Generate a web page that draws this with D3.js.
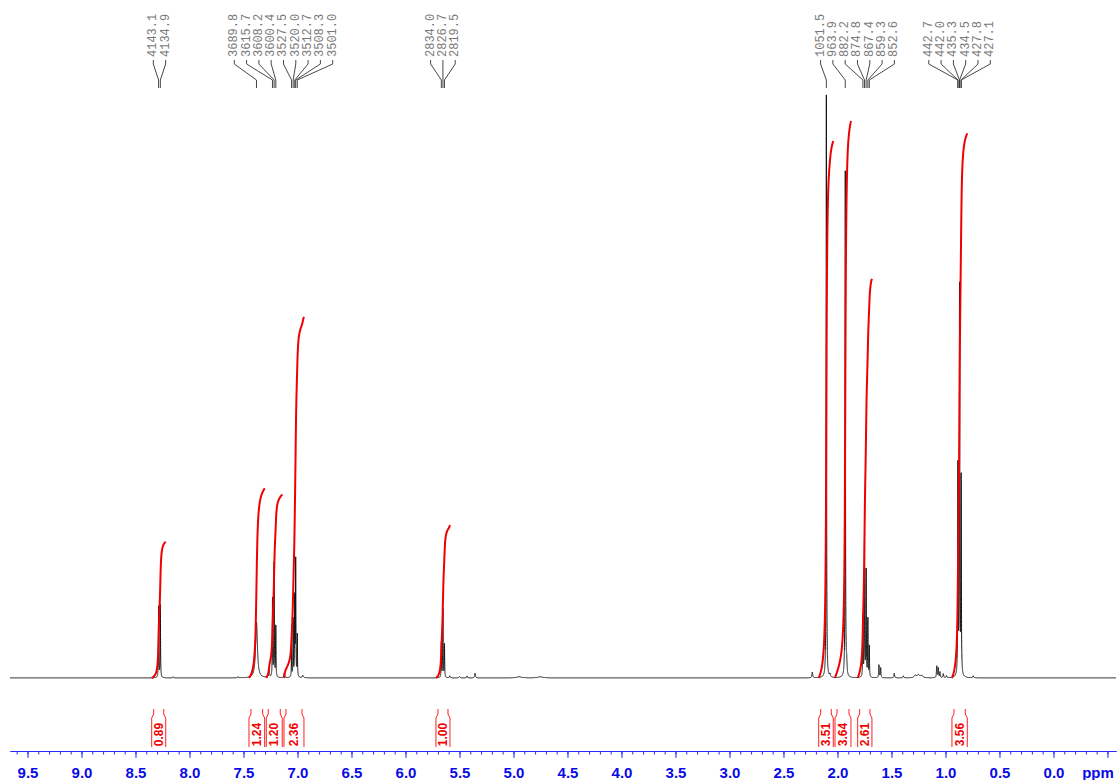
<!DOCTYPE html>
<html><head><meta charset="utf-8">
<script src="https://cdn.jsdelivr.net/npm/d3@7"></script>
<style>body{margin:0;background:#fff}svg{display:block}</style>
</head><body><svg id="c" width="1118" height="780"></svg>
<script>
// ---------- DATA ----------
const spectrometerMHz = 500;
// labelled peaks (Hz), apparent amplitude (% of tallest line), half-width (Hz)
const peakHz = [4143.1, 4134.9,
  3689.8, 3615.7, 3608.2, 3600.4, 3527.5, 3520.0, 3512.7, 3508.3, 3501.0,
  2834.0, 2826.7, 2819.5,
  1051.5, 963.9, 882.2, 874.8, 867.4, 859.3, 852.6,
  442.7, 442.0, 435.3, 434.5, 427.8, 427.1];
const peakHeight = [12.2, 12.5,
  9.6, 13.4, 19.5, 8.7, 4.8, 9.9, 13.4, 19.9, 7.2,
  6.0, 11.7, 5.7,
  100, 86.8, 10.3, 24.5, 18.2, 9.9, 5.3,
  20.1, 20.1, 38.6, 38.6, 18.9, 18.9];
const peakWidthHz = [1, 1,
  5, 1, 1, 1, 1, 1, 1, 1, 1,
  1, 1, 1,
  1, 1, 1, 1, 1, 1, 1,
  1, 1, 1, 1, 1, 1];
const labelGroupSizes = [2, 9, 3, 7, 6];
// small unlabelled signals (ppm), amplitude (%), half-width (Hz)
const minorPpm    = [8.15, 7.55, 7.264, 7.122, 6.95, 5.59, 5.50, 5.43, 5.356, 4.95, 4.75,
  2.233, 2.069, 1.915, 1.616, 1.600, 1.474, 1.39, 1.28, 1.25, 1.22,
  1.081, 1.067, 1.051, 1.02, 0.99, 0.743];
const minorHeight = [0.2, 0.2, 1.4, 0.85, 0.4, 0.35, 0.25, 0.35, 0.8, 0.2, 0.2,
  1.0, 0.5, 2.1, 2.2, 1.7, 0.8, 0.35, 0.45, 0.5, 0.4,
  2.0, 1.7, 1.0, 0.7, 0.35, 0.35];
const minorWidthHz = [2, 2, 2, 2, 3, 2, 3, 2, 2, 15, 15,
  2, 2, 2, 1.5, 1.5, 2, 2, 6, 6, 6,
  1.5, 1.5, 1.5, 2, 2, 2];
// integrals
const integralFrom  = [8.350, 7.449, 7.289, 7.125, 5.718, 2.174, 2.023, 1.813, 0.940];
const integralTo    = [8.220, 7.304, 7.141, 6.940, 5.588, 2.039, 1.875, 1.681, 0.798];
const integralValue = [0.89, 1.24, 1.20, 2.36, 1.00, 3.51, 3.64, 2.61, 3.56];
// axis
const majorTicks = [9.5, 9.0, 8.5, 8.0, 7.5, 7.0, 6.5, 6.0, 5.5, 5.0, 4.5, 4.0, 3.5, 3.0, 2.5, 2.0, 1.5, 1.0, 0.5, 0.0, -0.5];
const tickLabels = ["9.5","9.0","8.5","8.0","7.5","7.0","6.5","6.0","5.5","5.0","4.5","4.0","3.5","3.0","2.5","2.0","1.5","1.0","0.5","0.0",""];
const axisUnit = "ppm";

// ---------- LAYOUT ----------
const svg = d3.select('#c');
const x = d3.scaleLinear().domain([9.662, -0.579]).range([10, 1116]);
const y = d3.scaleLinear().domain([0, 100]).range([678, 95]);
const yInt = d3.scaleLinear().domain([0, 1]).range([678, 525]);
const axisY = 751;

const peaks = peakHz.map((h, i) => ({c: h / spectrometerMHz, h: peakHeight[i], w: peakWidthHz[i] / spectrometerMHz}))
  .concat(minorPpm.map((p, i) => ({c: p, h: minorHeight[i], w: minorWidthHz[i] / spectrometerMHz})));

function intensity(ppm, minW) {
  let s = 0;
  for (const p of peaks) {
    const g = Math.max(p.w, minW);
    const d = (ppm - p.c) / g;
    s += p.h * (p.w / g) / (1 + d * d);
  }
  return s;
}

// spectrum trace
const [p0, p1] = x.domain();
const step = 0.0002;
const spec = [];
for (let p = p0; p >= p1; p -= step) spec.push([p, intensity(p, 0)]);
svg.append('path')
  .attr('d', d3.line().x(d => x(d[0])).y(d => y(d[1]))(spec))
  .attr('fill', 'none').attr('stroke', '#111').attr('stroke-width', 1);

// integral curves
const intW = 3 / spectrometerMHz;
integralFrom.forEach((f, k) => {
  const t = integralTo[k];
  const pts = [];
  let cum = 0, prev = intensity(f, intW);
  pts.push([f, 0]);
  for (let p = f - 0.0005; p >= t; p -= 0.0005) {
    const v = intensity(p, intW);
    cum += (prev + v) / 2; prev = v;
    pts.push([p, cum]);
  }
  const total = cum;
  svg.append('path')
    .attr('d', d3.line().x(d => x(d[0])).y(d => yInt(d[1] / total * integralValue[k]))(pts))
    .attr('fill', 'none').attr('stroke', '#f00000').attr('stroke-width', 2);
  // bracket
  const xl = x(f), xr = x(t);
  svg.append('path')
    .attr('d', `M${xl + 2},709 V714 L${xl},718 V747 M${xr - 2},709 V714 L${xr},718 V747`)
    .attr('fill', 'none').attr('stroke', '#ff2020').attr('stroke-width', 1);
  svg.append('text')
    .attr('transform', `translate(${(xl + xr) / 2},734.5) rotate(-90)`)
    .attr('text-anchor', 'middle').attr('dominant-baseline', 'central')
    .attr('font-family', 'Liberation Sans, Arial, sans-serif').attr('font-weight', 'bold')
    .attr('font-size', 12).attr('fill', '#f00000')
    .text(integralValue[k].toFixed(2));
});

// peak labels
let idx = 0;
const fmt = d3.format('.1f');
labelGroupSizes.forEach(n => {
  const hz = peakHz.slice(idx, idx + n); idx += n;
  const px = hz.map(h => x(h / spectrometerMHz));
  const mean = d3.mean(px);
  const sp = 12.3;
  hz.forEach((h, i) => {
    const lx = mean + (i - (n - 1) / 2) * sp;
    svg.append('text')
      .attr('transform', `translate(${lx},57) rotate(-90)`)
      .attr('text-anchor', 'start').attr('dominant-baseline', 'central')
      .attr('font-family', 'Liberation Mono, Courier New, monospace')
      .attr('font-size', 12).attr('fill', '#7a7a7a')
      .text(fmt(h));
    svg.append('path')
      .attr('d', `M${lx},60 V64 L${px[i]},80 V88`)
      .attr('fill', 'none').attr('stroke', '#333').attr('stroke-width', 0.9);
  });
});

// axis
const minorTicks = d3.range(-5, 97).map(i => i / 10);
svg.append('g').attr('transform', `translate(0,${axisY})`)
  .call(d3.axisBottom(x).tickValues(minorTicks).tickSize(3.5).tickSizeOuter(0).tickFormat(''))
  .call(g => g.selectAll('line,path').attr('stroke', '#2828ff'));
const gMaj = svg.append('g').attr('transform', `translate(0,${axisY})`)
  .call(d3.axisBottom(x).tickValues(majorTicks).tickSize(7).tickSizeOuter(0).tickPadding(9)
    .tickFormat((d, i) => tickLabels[i]));
gMaj.selectAll('line,path').attr('stroke', '#2828ff');
gMaj.selectAll('text').attr('fill', '#0a0ae6').attr('font-size', 15).attr('font-weight', 'bold')
  .attr('font-family', 'Liberation Sans, Arial, sans-serif');
svg.append('text').attr('x', 1098).attr('y', 778).attr('text-anchor', 'middle')
  .attr('fill', '#0a0ae6').attr('font-size', 15).attr('font-weight', 'bold')
  .attr('font-family', 'Liberation Sans, Arial, sans-serif').text(axisUnit);
</script></body></html>
